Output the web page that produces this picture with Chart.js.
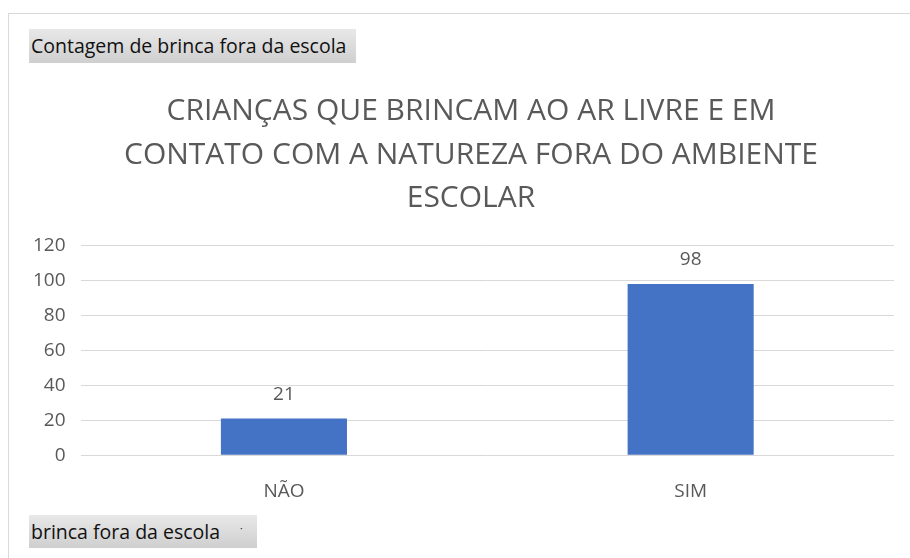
<!DOCTYPE html>
<html>
<head>
<meta charset="utf-8">
<script src="https://cdn.jsdelivr.net/npm/chart.js@4"></script>
<style>
  body { margin: 0; background: #fff; font-family: "Open Sans", sans-serif; }
  #frame { position: absolute; left: 8px; top: 13px; width: 910px; height: 560px;
           border-left: 1px solid #d9d9d9; border-top: 1px solid #d9d9d9; }
  #wrap { position: absolute; left: 9px; top: 14px; width: 901px; height: 544px; }
  .btn { position: absolute; background: linear-gradient(#e8e8e8, #cfcfcf);
         color: #111; font-size: 19.5px; line-height: 34px; padding: 0 2px; box-sizing: border-box;
         white-space: nowrap; }
</style>
</head>
<body>
<div id="frame"></div>
<div id="wrap"><canvas id="myChart"></canvas></div>
<div class="btn" style="left:29px;top:29px;width:327px;height:34px;">Contagem de brinca fora da escola</div>
<div class="btn" style="left:29px;top:515px;width:228px;height:33px;">brinca fora da escola <span style="margin-left:15px;font-size:12px;position:relative;top:-2px;">&#729;</span></div>
<script>
// chart data
var categories = ["NÃO", "SIM"];
var counts = [21, 98];
var yTicks = [0, 20, 40, 60, 80, 100, 120];
var titleLines = ["CRIANÇAS QUE BRINCAM AO AR LIVRE E EM", "CONTATO COM A NATUREZA FORA DO AMBIENTE", "ESCOLAR"];

var grey = "#595959";

// value labels above bars
var valueLabels = {
  id: "valueLabels",
  afterDatasetsDraw: function (chart) {
    var ctx = chart.ctx;
    var meta = chart.getDatasetMeta(0);
    ctx.save();
    ctx.font = "19px 'Open Sans'";
    ctx.fillStyle = grey;
    ctx.textAlign = "center";
    ctx.textBaseline = "middle";
    meta.data.forEach(function (bar, i) {
      ctx.fillText(counts[i], bar.x, bar.y - 24);
    });
    ctx.restore();
  },
};

// title in the original sits a bit right of the canvas centre
var titleShift = {
  id: "titleShift",
  afterLayout: function (chart) {
    if (chart.titleBlock) chart.titleBlock.left += 30;
  },
};

var chart = new Chart("myChart", {
  type: "bar",
  data: {
    labels: categories,
    datasets: [
      {
        data: counts,
        backgroundColor: "#4472c4",
        barPercentage: 0.31,
        categoryPercentage: 1,
      },
    ],
  },
  options: {
    responsive: true,
    maintainAspectRatio: false,
    animation: false,
    layout: { padding: { left: 9, right: 16, top: 0, bottom: 38 } },
    plugins: {
      legend: { display: false },
      tooltip: { enabled: false },
      title: {
        display: true,
        text: titleLines,
        color: grey,
        font: { family: "Open Sans", size: 30, weight: "normal", lineHeight: 1.45 },
        padding: { top: 76, bottom: 25 },
      },
    },
    scales: {
      x: {
        grid: { display: false },
        border: { display: false },
        ticks: { color: grey, font: { family: "Open Sans", size: 19 }, padding: 17 },
      },
      y: {
        min: 0,
        max: 120,
        afterBuildTicks: function (axis) {
          axis.ticks = yTicks.map(function (v) { return { value: v }; });
        },
        grid: { color: "#d9d9d9", drawTicks: false },
        border: { display: false },
        ticks: { color: grey, font: { family: "Open Sans", size: 19 }, padding: 15 },
      },
    },
  },
  plugins: [valueLabels, titleShift],
});
</script>
</body>
</html>
